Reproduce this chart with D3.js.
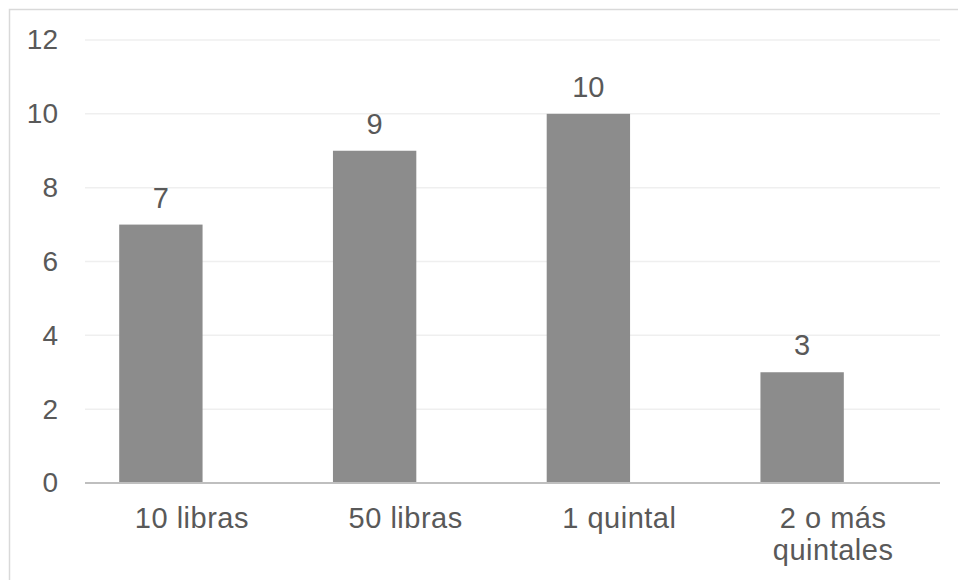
<!DOCTYPE html>
<html>
<head>
<meta charset="utf-8">
<script src="https://cdn.jsdelivr.net/npm/d3@7"></script>
<style>
  html, body { margin: 0; padding: 0; background: #ffffff; }
  svg { display: block; }
  text { font-family: "Liberation Sans", Arial, sans-serif; fill: #595959; }
</style>
</head>
<body>
<svg id="chart" width="958" height="580"></svg>
<script>
// Sack sizes and how many respondents chose each one
const categories = ["10 libras", "50 libras", "1 quintal", "2 o más quintales"];
const categoryLines = [["10 libras"], ["50 libras"], ["1 quintal"], ["2 o más", "quintales"]];
const counts = [7, 9, 10, 3];
const yTicks = [0, 2, 4, 6, 8, 10, 12];

const W = 958, H = 580;
const plot = { left: 85, right: 940, top: 40, bottom: 483 };

const svg = d3.select("#chart");

// chart frame
svg.append("rect")
  .attr("x", 9.5).attr("y", 9.5)
  .attr("width", W + 20).attr("height", H + 20)
  .attr("fill", "#ffffff")
  .attr("stroke", "#d9d9d9")
  .attr("stroke-width", 1.5);

const x = d3.scaleBand()
  .domain(categories)
  .range([plot.left, plot.right])
  .paddingInner(0).paddingOuter(0);

const y = d3.scaleLinear()
  .domain([0, 12])
  .range([plot.bottom, plot.top]);

// horizontal gridlines
svg.append("g")
  .selectAll("line")
  .data(yTicks.filter(d => d > 0))
  .join("line")
  .attr("x1", plot.left).attr("x2", plot.right)
  .attr("y1", d => y(d)).attr("y2", d => y(d))
  .attr("stroke", "#efefef")
  .attr("stroke-width", 1.5);

// y-axis labels
const yAxis = d3.axisLeft(y).tickValues(yTicks).tickSize(0).tickPadding(0);
const gy = svg.append("g")
  .attr("transform", `translate(58,0)`)
  .call(yAxis);
gy.select(".domain").remove();
gy.selectAll("text")
  .attr("font-size", 28)
  .attr("fill", "#595959")
  .style("font-family", "'Liberation Sans', Arial, sans-serif");

// bars: each bar sits in the left part of its category slot
const barOffset = x.bandwidth() * 0.16;
const barW = x.bandwidth() * 0.39;
svg.append("g")
  .selectAll("rect")
  .data(counts)
  .join("rect")
  .attr("x", (d, i) => x(categories[i]) + barOffset)
  .attr("y", d => y(d))
  .attr("width", barW)
  .attr("height", d => y(0) - y(d))
  .attr("fill", "#8c8c8c");

// value labels
svg.append("g")
  .selectAll("text")
  .data(counts)
  .join("text")
  .attr("x", (d, i) => x(categories[i]) + barOffset + barW / 2)
  .attr("y", d => y(d) - 17)
  .attr("text-anchor", "middle")
  .attr("font-size", 29)
  .attr("fill", "#404040")
  .text(d => d);

// baseline axis
svg.append("line")
  .attr("x1", plot.left).attr("x2", plot.right)
  .attr("y1", y(0)).attr("y2", y(0))
  .attr("stroke", "#bfbfbf")
  .attr("stroke-width", 2);

// category labels
const cat = svg.append("g")
  .selectAll("text")
  .data(categories)
  .join("text")
  .attr("x", d => x(d) + x.bandwidth() / 2)
  .attr("y", 528)
  .attr("text-anchor", "middle")
  .attr("font-size", 29)
  .attr("letter-spacing", 0.5)
  .attr("fill", "#595959");
cat.each(function (d, i) {
  d3.select(this).selectAll("tspan")
    .data(categoryLines[i])
    .join("tspan")
    .attr("x", x(d) + x.bandwidth() / 2)
    .attr("dy", (t, j) => j === 0 ? 0 : 32)
    .text(t => t);
});
</script>
</body>
</html>
